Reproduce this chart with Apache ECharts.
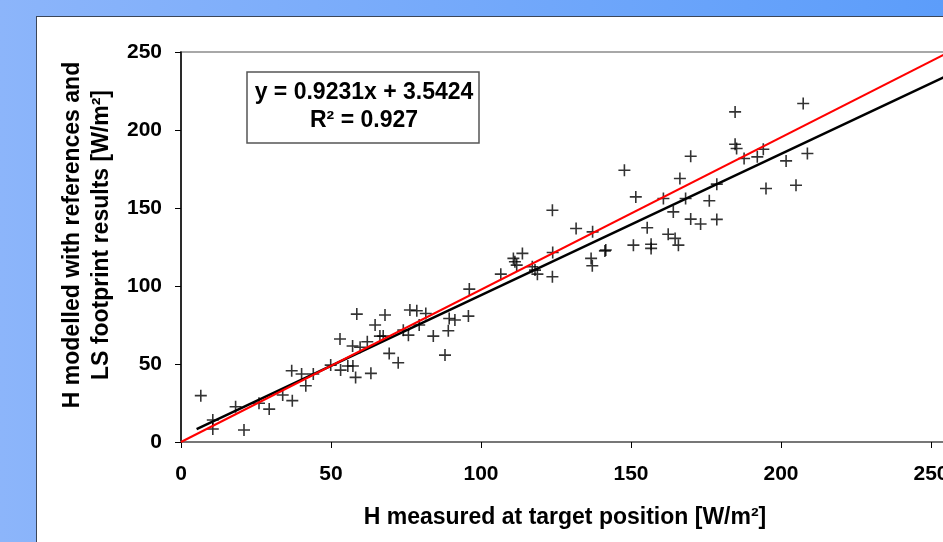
<!DOCTYPE html>
<html>
<head>
<meta charset="utf-8">
<script src="https://cdn.jsdelivr.net/npm/echarts@6/dist/echarts.min.js"></script>
<style>
  html, body { margin: 0; padding: 0; width: 943px; height: 542px; overflow: hidden;
    background: linear-gradient(to right, #8cb5fa, #5c9dfa); }
  #panel { position: absolute; left: 36px; top: 16px; width: 960px; height: 600px;
    background: #fff; border: 1.5px solid #3b4658; }
  #chart { position: absolute; left: 0; top: 0; width: 943px; height: 542px; }
</style>
</head>
<body>
<div id="panel"></div>
<div id="chart"></div>
<script>
// H measured at target position (x) vs H modelled (y), W/m²
const measured = [
  6.6, 10.6, 10.6, 18.2, 21, 26, 29.4, 33.9, 37.1, 41.6,
  36.9, 40.2, 44.1, 49.9, 53, 53.2, 55.6, 57.3, 58.2, 57.2,
  58.6, 59.7, 62.1, 63.3, 64.7, 66.3, 67.4, 68, 69.4, 72.4,
  74.1, 75.8, 76.3, 78.6, 79.4, 81.6, 84.1, 88, 89.1, 89.4,
  91.3, 95.8, 96.1, 106.6, 110.8, 111.3, 111.9, 113.8, 117.1, 118,
  118.8, 123.8, 123.9, 123.8, 131.7, 137.2, 136.7, 137.1, 141.3, 141.6,
  147.8, 151.6, 150.8, 155.4, 156.7, 156.7, 160.8, 162.4, 164.7, 165.8,
  164.1, 166.3, 168.2, 169.9, 169.9, 173.2, 176.1, 178.6, 178.6, 184.7,
  184.7, 185.2, 187.7, 192.1, 194.1, 195, 201.7, 205, 207.4, 208.8
];
const modelled = [
  29.7, 14.1, 8.3, 22.6, 7.7, 24.8, 21.1, 30.1, 26.5, 36.1,
  45.7, 43.6, 43.6, 49.3, 66, 46.1, 48.7, 48.7, 41.4, 61.5,
  82, 60.7, 64.3, 44, 75, 67.9, 67.9, 81.4, 56.8, 50.8,
  71.7, 68.5, 84.6, 84.1, 75, 82.4, 67.9, 55.7, 71.3, 79.2,
  78.2, 80.7, 98, 107.6, 117.7, 115.5, 113.4, 120.9, 112.3, 110.2,
  107.6, 148.6, 121.5, 105.9, 136.9, 134.7, 117.7, 113, 122.5, 123.1,
  174.2, 157.1, 126.2, 137.3, 126.8, 124.1, 156.1, 133.2, 130.5, 126.2,
  147.5, 168.9, 156.1, 183.2, 142.9, 139.7, 154.6, 165.3, 142.7, 211.6,
  190.9, 188.1, 181.7, 182.8, 187.7, 162.5, 180.2, 164.6, 217, 184.9
];
// line end points
const oneToOneX = [0, 260];
const oneToOneY = [0, 253.8];
const trendX = [5.2, 260];
const trendY = [8.3, 239.0];

const yTicks = [0, 50, 100, 150, 200, 250];
const equation = 'y = 0.9231x + 3.5424';
const rSquared = 'R² = 0.927';

const font = 'Liberation Sans, Arial, sans-serif';
const cross = 'path://M5.2,0H6.8V12H5.2ZM0,5.2H12V6.8H0Z';

const chart = echarts.init(document.getElementById('chart'));

chart.setOption({
  animation: false,
  grid: {
    left: 181, top: 52, width: 900, height: 390,
    outerBoundsMode: 'none', containLabel: false,
    show: true, borderColor: '#a8a8a8', borderWidth: 2
  },
  xAxis: {
    type: 'value', min: 0, max: 300, interval: 50,
    name: 'H measured at target position [W/m²]',
    nameLocation: 'middle', nameGap: 64,
    nameTextStyle: { fontFamily: font, fontWeight: 'bold', fontSize: 23, color: '#000', padding: [0, 132, 0, 0] },
    axisLine: { lineStyle: { color: '#777', width: 2 } },
    axisTick: { length: 6, lineStyle: { color: '#000' } },
    axisLabel: { margin: 22, fontFamily: font, fontWeight: 'bold', fontSize: 21, color: '#000' },
    splitLine: { show: false }
  },
  yAxis: {
    type: 'value', min: yTicks[0], max: yTicks[yTicks.length - 1], interval: 50,
    name: 'H modelled with references and\nLS footprint results [W/m²]',
    nameLocation: 'middle', nameRotate: 90, nameGap: 63,
    nameTextStyle: { fontFamily: font, fontWeight: 'bold', fontSize: 23, color: '#000', lineHeight: 29, padding: [0, 0, 0, 24] },
    axisLine: { lineStyle: { color: '#000', width: 1.5 } },
    axisTick: { length: 6, lineStyle: { color: '#000' } },
    axisLabel: { margin: 19, fontFamily: font, fontWeight: 'bold', fontSize: 21, color: '#000' },
    splitLine: { show: false }
  },
  series: [
    {
      type: 'scatter',
      data: measured.map((x, i) => [x, modelled[i]]),
      symbol: cross, symbolSize: 12,
      itemStyle: { color: '#000' },
      z: 2
    },
    {
      type: 'line',
      data: trendX.map((x, i) => [x, trendY[i]]),
      showSymbol: false,
      lineStyle: { color: '#000', width: 2.5 },
      z: 3
    },
    {
      type: 'line',
      data: oneToOneX.map((x, i) => [x, oneToOneY[i]]),
      showSymbol: false,
      lineStyle: { color: '#ff0000', width: 2 },
      z: 4
    }
  ],
  graphic: [
    {
      type: 'group',
      z: 10,
      children: [
        { type: 'rect', shape: { x: 247, y: 72, width: 232, height: 71 },
          style: { fill: '#fff', stroke: '#555', lineWidth: 1.5 } },
        { type: 'text', x: 364, y: 93,
          style: { text: equation, font: 'bold 23px ' + font, fill: '#000', align: 'center', verticalAlign: 'middle' } },
        { type: 'text', x: 364, y: 121,
          style: { text: rSquared, font: 'bold 23px ' + font, fill: '#000', align: 'center', verticalAlign: 'middle' } }
      ]
    }
  ]
});
</script>
</body>
</html>
